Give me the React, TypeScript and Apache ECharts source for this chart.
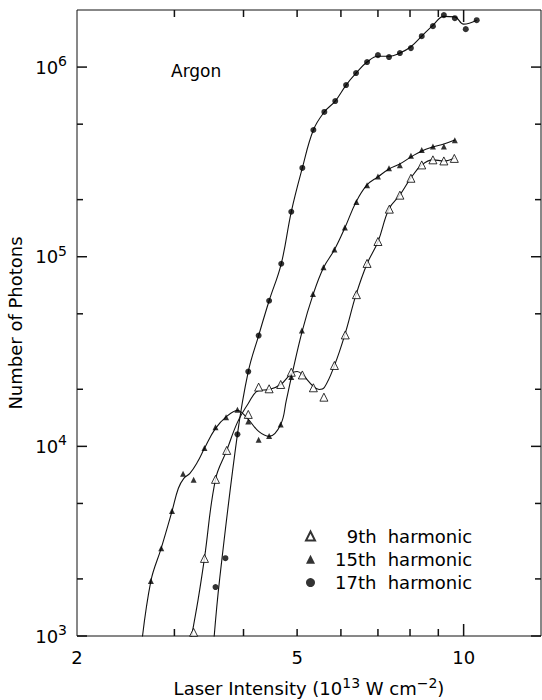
import React, { useEffect, useRef } from "react";
import * as echarts from "echarts";

const FONT = "DejaVu Sans";
const INK = "#111";

// Axis ranges (laser intensity in 10^13 W cm^-2, number of photons)
const intensityMin = 2;
const intensityMax = 13.8;
const photonsMin = 1000;
const photonsMax = 2000000;

// Tick values
const intensityLabels = [2, 5, 10];
const intensityMinorTicks = [3, 4, 5, 6, 7, 8, 9];
const intensityMajorTicks = [10];
const photonLabels = [1e3, 1e4, 1e5, 1e6];
const photonMinorTicks = [2e3, 5e3, 2e4, 5e4, 2e5, 5e5];

const seriesNames = ["9th harmonic", "15th harmonic", "17th harmonic"];

// Measured points — 9th harmonic
const intensity9 = [3.25, 3.4, 3.56, 3.73, 4.08, 4.26, 4.45, 4.67, 4.88, 5.11, 5.35, 5.59, 5.84, 6.11, 6.4, 6.69, 7.0, 7.34, 7.67, 8.03, 8.4, 8.8, 9.21, 9.62];
const photons9 = [1046, 2565, 6700, 9520, 14740, 20530, 20120, 21200, 24600, 23800, 20370, 18170, 26700, 38700, 63100, 92200, 120300, 178200, 211200, 259300, 304900, 324300, 320000, 330000];

// Measured points — 15th harmonic
const intensity15 = [2.72, 2.84, 2.97, 3.11, 3.25, 3.4, 3.56, 3.72, 3.9, 4.08, 4.26, 4.45, 4.67, 4.88, 5.1, 5.34, 5.58, 5.84, 6.1, 6.4, 6.69, 7.0, 7.33, 7.67, 8.03, 8.4, 8.8, 9.21, 9.64];
const photons15 = [1948, 2905, 4565, 7180, 6676, 9796, 12630, 14260, 15600, 13540, 10840, 11330, 13060, 23230, 40790, 63650, 87870, 109200, 142600, 194600, 238300, 264700, 293100, 304000, 340500, 365800, 380800, 380800, 411000];

// Measured points — 17th harmonic
const intensity17 = [3.56, 3.71, 3.9, 4.08, 4.26, 4.45, 4.68, 4.88, 5.11, 5.35, 5.6, 5.86, 6.13, 6.39, 6.69, 7.0, 7.33, 7.67, 8.03, 8.4, 8.8, 9.21, 9.64, 10.09, 10.56];
const photons17 = [1811, 2573, 11570, 24800, 38400, 58600, 91800, 172600, 294000, 466000, 580000, 662000, 804000, 930000, 1063000, 1156000, 1129000, 1186000, 1259000, 1455000, 1644000, 1880000, 1810000, 1585000, 1767000];

// Fitted curves
const fitIntensity9 = [3.2, 3.31, 3.4, 3.56, 3.73, 3.9, 4.08, 4.26, 4.45, 4.67, 4.88, 5.0, 5.11, 5.35, 5.48, 5.6, 5.84, 6.1, 6.39, 6.69, 7.0, 7.33, 7.67, 8.03, 8.4, 8.8, 9.21, 9.64];
const fitPhotons9 = [897, 1547, 2573, 6705, 9520, 13380, 16840, 19710, 19950, 21200, 24230, 24810, 23930, 20690, 19950, 20440, 26690, 38860, 63100, 91850, 119900, 179000, 211800, 260400, 304800, 324300, 319900, 332000];

const fitIntensity15 = [2.61, 2.72, 2.84, 2.97, 3.05, 3.12, 3.2, 3.3, 3.4, 3.56, 3.73, 3.9, 4.08, 4.26, 4.45, 4.67, 4.78, 4.88, 5.11, 5.35, 5.58, 5.84, 6.1, 6.39, 6.69, 7.0, 7.33, 7.67, 8.03, 8.4, 8.8, 9.21, 9.64];
const fitPhotons15 = [844, 1948, 2905, 4547, 6012, 6786, 7210, 8236, 9760, 12440, 14390, 15470, 13870, 11990, 11290, 13050, 17470, 23070, 40780, 63840, 87560, 108900, 142200, 194600, 239300, 263700, 290400, 308700, 335800, 361300, 379300, 393200, 412800];

const fitIntensity17 = [3.53, 3.62, 3.9, 4.08, 4.26, 4.45, 4.68, 4.88, 5.11, 5.35, 5.6, 5.86, 6.13, 6.39, 6.69, 7.0, 7.33, 7.67, 8.03, 8.4, 8.8, 9.21, 9.64, 10.0, 10.56];
const fitPhotons17 = [897, 1971, 11570, 24800, 38400, 58600, 91800, 172600, 294000, 466000, 580000, 662000, 804000, 930000, 1063000, 1140000, 1140000, 1186000, 1280000, 1455000, 1660000, 1850000, 1840000, 1684000, 1767000];

const L = (v: number) => Math.log10(v);
const pairs = (xs: number[], ys: number[]) => xs.map((x, i) => [L(x), L(ys[i])]);

function buildOption(): any {
  const lineSeries = (name: string, xs: number[], ys: number[]) => ({
    name,
    type: "line",
    data: pairs(xs, ys),
    smooth: 0.4,
    showSymbol: false,
    symbol: "none",
    clip: true,
    silent: true,
    lineStyle: { color: INK, width: 1.1 },
    z: 2,
  });

  return {
    animation: false,
    backgroundColor: "#fff",
    grid: {
      left: 77,
      right: 1,
      top: 10,
      bottom: 64,
      containLabel: false,
      outerBoundsMode: "none",
      show: true,
      borderColor: INK,
      borderWidth: 1,
      backgroundColor: "transparent",
    },
    xAxis: {
      type: "value",
      min: L(intensityMin),
      max: L(intensityMax),
      splitLine: { show: false },
      axisLine: { show: false, onZero: false },
      axisTick: { show: false },
      axisLabel: {
        show: true,
        customValues: intensityLabels.map(L),
        formatter: (v: number) => String(Math.round(Math.pow(10, v))),
        fontFamily: FONT,
        fontSize: 18,
        color: "#000",
        margin: 12,
      },
      name: "Laser Intensity (10{sup|13} W cm{sup|−2})",
      nameLocation: "middle",
      nameGap: 40,
      nameTextStyle: {
        fontFamily: FONT,
        fontSize: 18,
        color: "#000",
        lineHeight: 24,
        rich: {
          sup: { fontFamily: FONT, fontSize: 14, lineHeight: 14, verticalAlign: "top", color: "#000" },
        },
      },
    },
    yAxis: {
      type: "value",
      min: L(photonsMin),
      max: L(photonsMax),
      splitLine: { show: false },
      axisLine: { show: false, onZero: false },
      axisTick: { show: false },
      axisLabel: {
        show: true,
        customValues: photonLabels.map(L),
        formatter: (v: number) => `{b|10}{s|${Math.round(v)}}`,
        margin: 10,
        rich: {
          b: { fontFamily: FONT, fontSize: 18, lineHeight: 26, color: "#000" },
          s: { fontFamily: FONT, fontSize: 14, lineHeight: 14, verticalAlign: "top", color: "#000" },
        },
      },
      name: "Number of Photons",
      nameLocation: "middle",
      nameGap: 44,
      nameTextStyle: { fontFamily: FONT, fontSize: 18, color: "#000" },
    },
    legend: {
      data: [
        { name: seriesNames[0], icon: "triangle" },
        { name: seriesNames[1], icon: "triangle" },
        { name: seriesNames[2], icon: "circle" },
      ],
      orient: "vertical",
      left: 305,
      top: 526,
      padding: 0,
      itemWidth: 9,
      itemHeight: 9,
      itemGap: 3.3,
      selectedMode: false,
      formatter: (name: string) => {
        const [n, h] = name.split(" ");
        return n.length < 4 ? `{n9|${n}}{h|${h}}` : `{n|${n}}{h|${h}}`;
      },
      textStyle: {
        fontFamily: FONT,
        fontSize: 18,
        color: "#000",
        lineHeight: 20,
        rich: {
          n: { fontFamily: FONT, fontSize: 18, lineHeight: 20, width: 52.7, padding: [0, 0, 0, 15], color: "#000" },
          n9: { fontFamily: FONT, fontSize: 18, lineHeight: 20, width: 41, padding: [0, 0, 0, 26.7], color: "#000" },
          h: { fontFamily: FONT, fontSize: 18, lineHeight: 20, color: "#000" },
        },
      },
    },
    series: [
      lineSeries("fit9", fitIntensity9, fitPhotons9),
      lineSeries("fit15", fitIntensity15, fitPhotons15),
      lineSeries("fit17", fitIntensity17, fitPhotons17),
      {
        name: seriesNames[0],
        type: "scatter",
        symbol: "triangle",
        symbolSize: 8,
        data: pairs(intensity9, photons9),
        itemStyle: { color: "#fff", borderColor: "#000", borderWidth: 1 },
        z: 4,
      },
      {
        name: seriesNames[1],
        type: "scatter",
        symbol: "triangle",
        symbolSize: 6,
        data: pairs(intensity15, photons15),
        itemStyle: { color: "#000" },
        z: 4,
      },
      {
        name: seriesNames[2],
        type: "scatter",
        symbol: "circle",
        symbolSize: 6,
        data: pairs(intensity17, photons17),
        itemStyle: { color: "#000" },
        z: 4,
      },
    ],
  };
}

// Inward tick marks on all four sides, positioned through the chart's own scales
function buildTickGraphics(chart: echarts.ECharts): any[] {
  const px = (x: number, y: number) => chart.convertToPixel({ gridIndex: 0 }, [x, y]) as number[];
  const xLo = L(intensityMin);
  const xHi = L(intensityMax);
  const yLo = L(photonsMin);
  const yHi = L(photonsMax);
  const style = { stroke: INK, lineWidth: 1.5 };
  const out: any[] = [];
  const xTick = (v: number, len: number) => {
    const b = px(L(v), yLo);
    const t = px(L(v), yHi);
    out.push({ type: "line", silent: true, z: 10, shape: { x1: b[0], y1: b[1], x2: b[0], y2: b[1] - len }, style });
    out.push({ type: "line", silent: true, z: 10, shape: { x1: t[0], y1: t[1], x2: t[0], y2: t[1] + len }, style });
  };
  const yTick = (v: number, len: number) => {
    const l = px(xLo, L(v));
    const r = px(xHi, L(v));
    out.push({ type: "line", silent: true, z: 10, shape: { x1: l[0], y1: l[1], x2: l[0] + len, y2: l[1] }, style });
    out.push({ type: "line", silent: true, z: 10, shape: { x1: r[0], y1: r[1], x2: r[0] - len, y2: r[1] }, style });
  };
  intensityMinorTicks.forEach((v) => xTick(v, 7));
  intensityMajorTicks.forEach((v) => xTick(v, 12));
  photonLabels.forEach((v) => yTick(v, 10));
  photonMinorTicks.forEach((v) => yTick(v, 6));
  return out;
}

export default function App() {
  const ref = useRef<HTMLDivElement>(null);
  useEffect(() => {
    if (!ref.current) return;
    const chart = echarts.init(ref.current, undefined, { renderer: "svg" });
    chart.setOption(buildOption());
    const elements = [
      {
        type: "text",
        x: 171,
        y: 71,
        style: { text: "Argon", fontFamily: FONT, fontSize: 17, fill: "#000", align: "left", verticalAlign: "middle" },
      },
      ...buildTickGraphics(chart),
    ];
    chart.setOption({ graphic: { elements } });
    return () => chart.dispose();
  }, []);
  return (
    <div
      ref={ref}
      style={{ position: "absolute", left: 0, top: 0, width: 542, height: 700, background: "#fff" }}
    />
  );
}
